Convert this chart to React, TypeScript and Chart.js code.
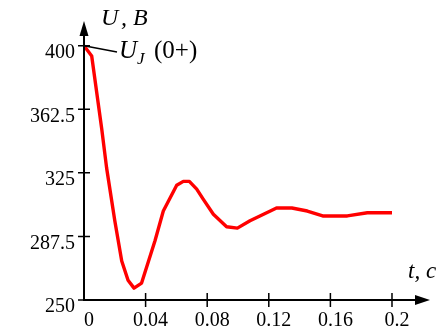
import React, { useEffect, useRef } from "react";
import { Chart, registerables } from "chart.js";

Chart.register(...registerables);

// time, s
const times = [0, 0.005, 0.0115, 0.0147, 0.02, 0.0245, 0.0286, 0.0325, 0.0374, 0.0461, 0.0515, 0.0602, 0.0645, 0.0684, 0.0732, 0.0775, 0.084, 0.0926, 0.0996, 0.1078, 0.121, 0.125, 0.135, 0.145, 0.155, 0.171, 0.184, 0.2];
// voltage, V
const voltages = [400, 394, 351, 327.8, 296.7, 273, 261.7, 257, 260, 285, 302.5, 317.7, 320, 320, 315.4, 309.4, 300.6, 293.2, 292.4, 296.7, 302.5, 304.3, 304.3, 302.5, 299.6, 299.6, 301.5, 301.5];

const xTicks = [0, 0.04, 0.08, 0.12, 0.16, 0.2];
const xTickLabels = ["0", "0.04", "0.08", "0.12", "0.16", "0.2"];
const yTicks = [250, 287.5, 325, 362.5, 400];
const yTickLabels = ["250", "287.5", "325", "362.5", "400"];

const yTitleVar = "U";
const yTitleUnit = ", B";
const xTitle = "t, c";
const annMain = "U";
const annSub = "J";
const annTail = "(0+)";

const SERIF = "'Liberation Serif', 'Times New Roman', serif";

const axesPlugin = {
  id: "axesPlugin",
  afterDraw(chart: any) {
    const ctx = chart.ctx as CanvasRenderingContext2D;
    const xs = chart.scales.x;
    const ys = chart.scales.y;
    const x0 = xs.getPixelForValue(0);
    const y0 = ys.getPixelForValue(250);
    const xEnd = chart.chartArea.right;
    const yTop = chart.chartArea.top;
    ctx.save();
    ctx.strokeStyle = "#000";
    ctx.fillStyle = "#000";
    ctx.lineWidth = 2;
    // axes
    ctx.beginPath();
    ctx.moveTo(x0, y0 + 1);
    ctx.lineTo(x0, yTop + 10);
    ctx.moveTo(x0 - 1, y0);
    ctx.lineTo(xEnd - 10, y0);
    ctx.stroke();
    // arrows
    ctx.beginPath();
    ctx.moveTo(x0, yTop);
    ctx.lineTo(x0 - 4.5, yTop + 15);
    ctx.lineTo(x0 + 4.5, yTop + 15);
    ctx.closePath();
    ctx.fill();
    ctx.beginPath();
    ctx.moveTo(xEnd, y0);
    ctx.lineTo(xEnd - 15, y0 - 5);
    ctx.lineTo(xEnd - 15, y0 + 5);
    ctx.closePath();
    ctx.fill();
    // tick marks
    ctx.lineWidth = 1.5;
    ctx.beginPath();
    xs.ticks.forEach((t: any) => {
      const px = xs.getPixelForValue(t.value);
      if (t.value === 0) return;
      ctx.moveTo(px, y0 - 7);
      ctx.lineTo(px, y0 + 7);
    });
    ys.ticks.forEach((t: any) => {
      const py = ys.getPixelForValue(t.value);
      ctx.moveTo(x0 - 6, py);
      ctx.lineTo(x0 + 6, py);
    });
    ctx.stroke();
    // titles
    ctx.textBaseline = "alphabetic";
    ctx.textAlign = "left";
    ctx.font = `italic 24px ${SERIF}`;
    ctx.fillText(yTitleVar, 101, 25);
    ctx.fillText(yTitleUnit, 121, 25);
    ctx.font = `italic 23px ${SERIF}`;
    ctx.fillText(xTitle, 408, 278);
    // annotation leader line
    const ax = xs.getPixelForValue(times[0]);
    const ay = ys.getPixelForValue(voltages[0]);
    ctx.lineWidth = 1.5;
    ctx.beginPath();
    ctx.moveTo(ax, ay);
    ctx.lineTo(117, 52);
    ctx.stroke();
    ctx.font = `italic 25px ${SERIF}`;
    ctx.fillText(annMain, 119, 58);
    ctx.font = `italic 17px ${SERIF}`;
    ctx.fillText(annSub, 137, 64);
    ctx.font = `25px ${SERIF}`;
    ctx.fillText(annTail, 154, 58);
    ctx.restore();
  },
};

export default function App() {
  const ref = useRef<HTMLCanvasElement | null>(null);
  useEffect(() => {
    document.body.style.margin = "0";
    const canvas = ref.current!;
    const chart = new Chart(canvas, {
      type: "scatter",
      data: {
        datasets: [
          {
            data: times.map((t, i) => ({ x: t, y: voltages[i] })),
            showLine: true,
            borderColor: "#ff0000",
            borderWidth: 3.4,
            pointRadius: 0,
            tension: 0,
            borderJoinStyle: "round",
          } as any,
        ],
      },
      options: {
        responsive: false,
        animation: false,
        layout: { padding: { top: 18, right: 15, left: 0, bottom: 0 } },
        plugins: { legend: { display: false }, tooltip: { enabled: false } },
        scales: {
          x: {
            type: "linear",
            min: 0,
            max: 0.22468,
            afterBuildTicks: (s: any) => {
              s.ticks = xTicks.map((v) => ({ value: v }));
            },
            afterFit: (s: any) => {
              s.height = 34;
            },
            grid: { display: false, drawTicks: false },
            border: { display: false },
            ticks: {
              padding: 9,
              labelOffset: 5,
              color: "#000",
              font: { family: SERIF, size: 20 },
              maxRotation: 0,
              autoSkip: false,
              callback: (_v: any, i: number) => xTickLabels[i],
            },
          },
          y: {
            type: "linear",
            min: 250,
            max: 414.6,
            afterBuildTicks: (s: any) => {
              s.ticks = yTicks.map((v) => ({ value: v }));
            },
            afterFit: (s: any) => {
              s.width = 84;
            },
            grid: { display: false, drawTicks: false },
            border: { display: false },
            ticks: {
              padding: 9,
              labelOffset: 7,
              color: "#000",
              font: { family: SERIF, size: 20 },
              autoSkip: false,
              callback: (_v: any, i: number) => yTickLabels[i],
            },
          },
        },
      },
      plugins: [axesPlugin],
    });
    return () => chart.destroy();
  }, []);
  return (
    <div style={{ width: 445, height: 334, background: "#fff" }}>
      <canvas ref={ref} width={445} height={334} style={{ display: "block" }} />
    </div>
  );
}
